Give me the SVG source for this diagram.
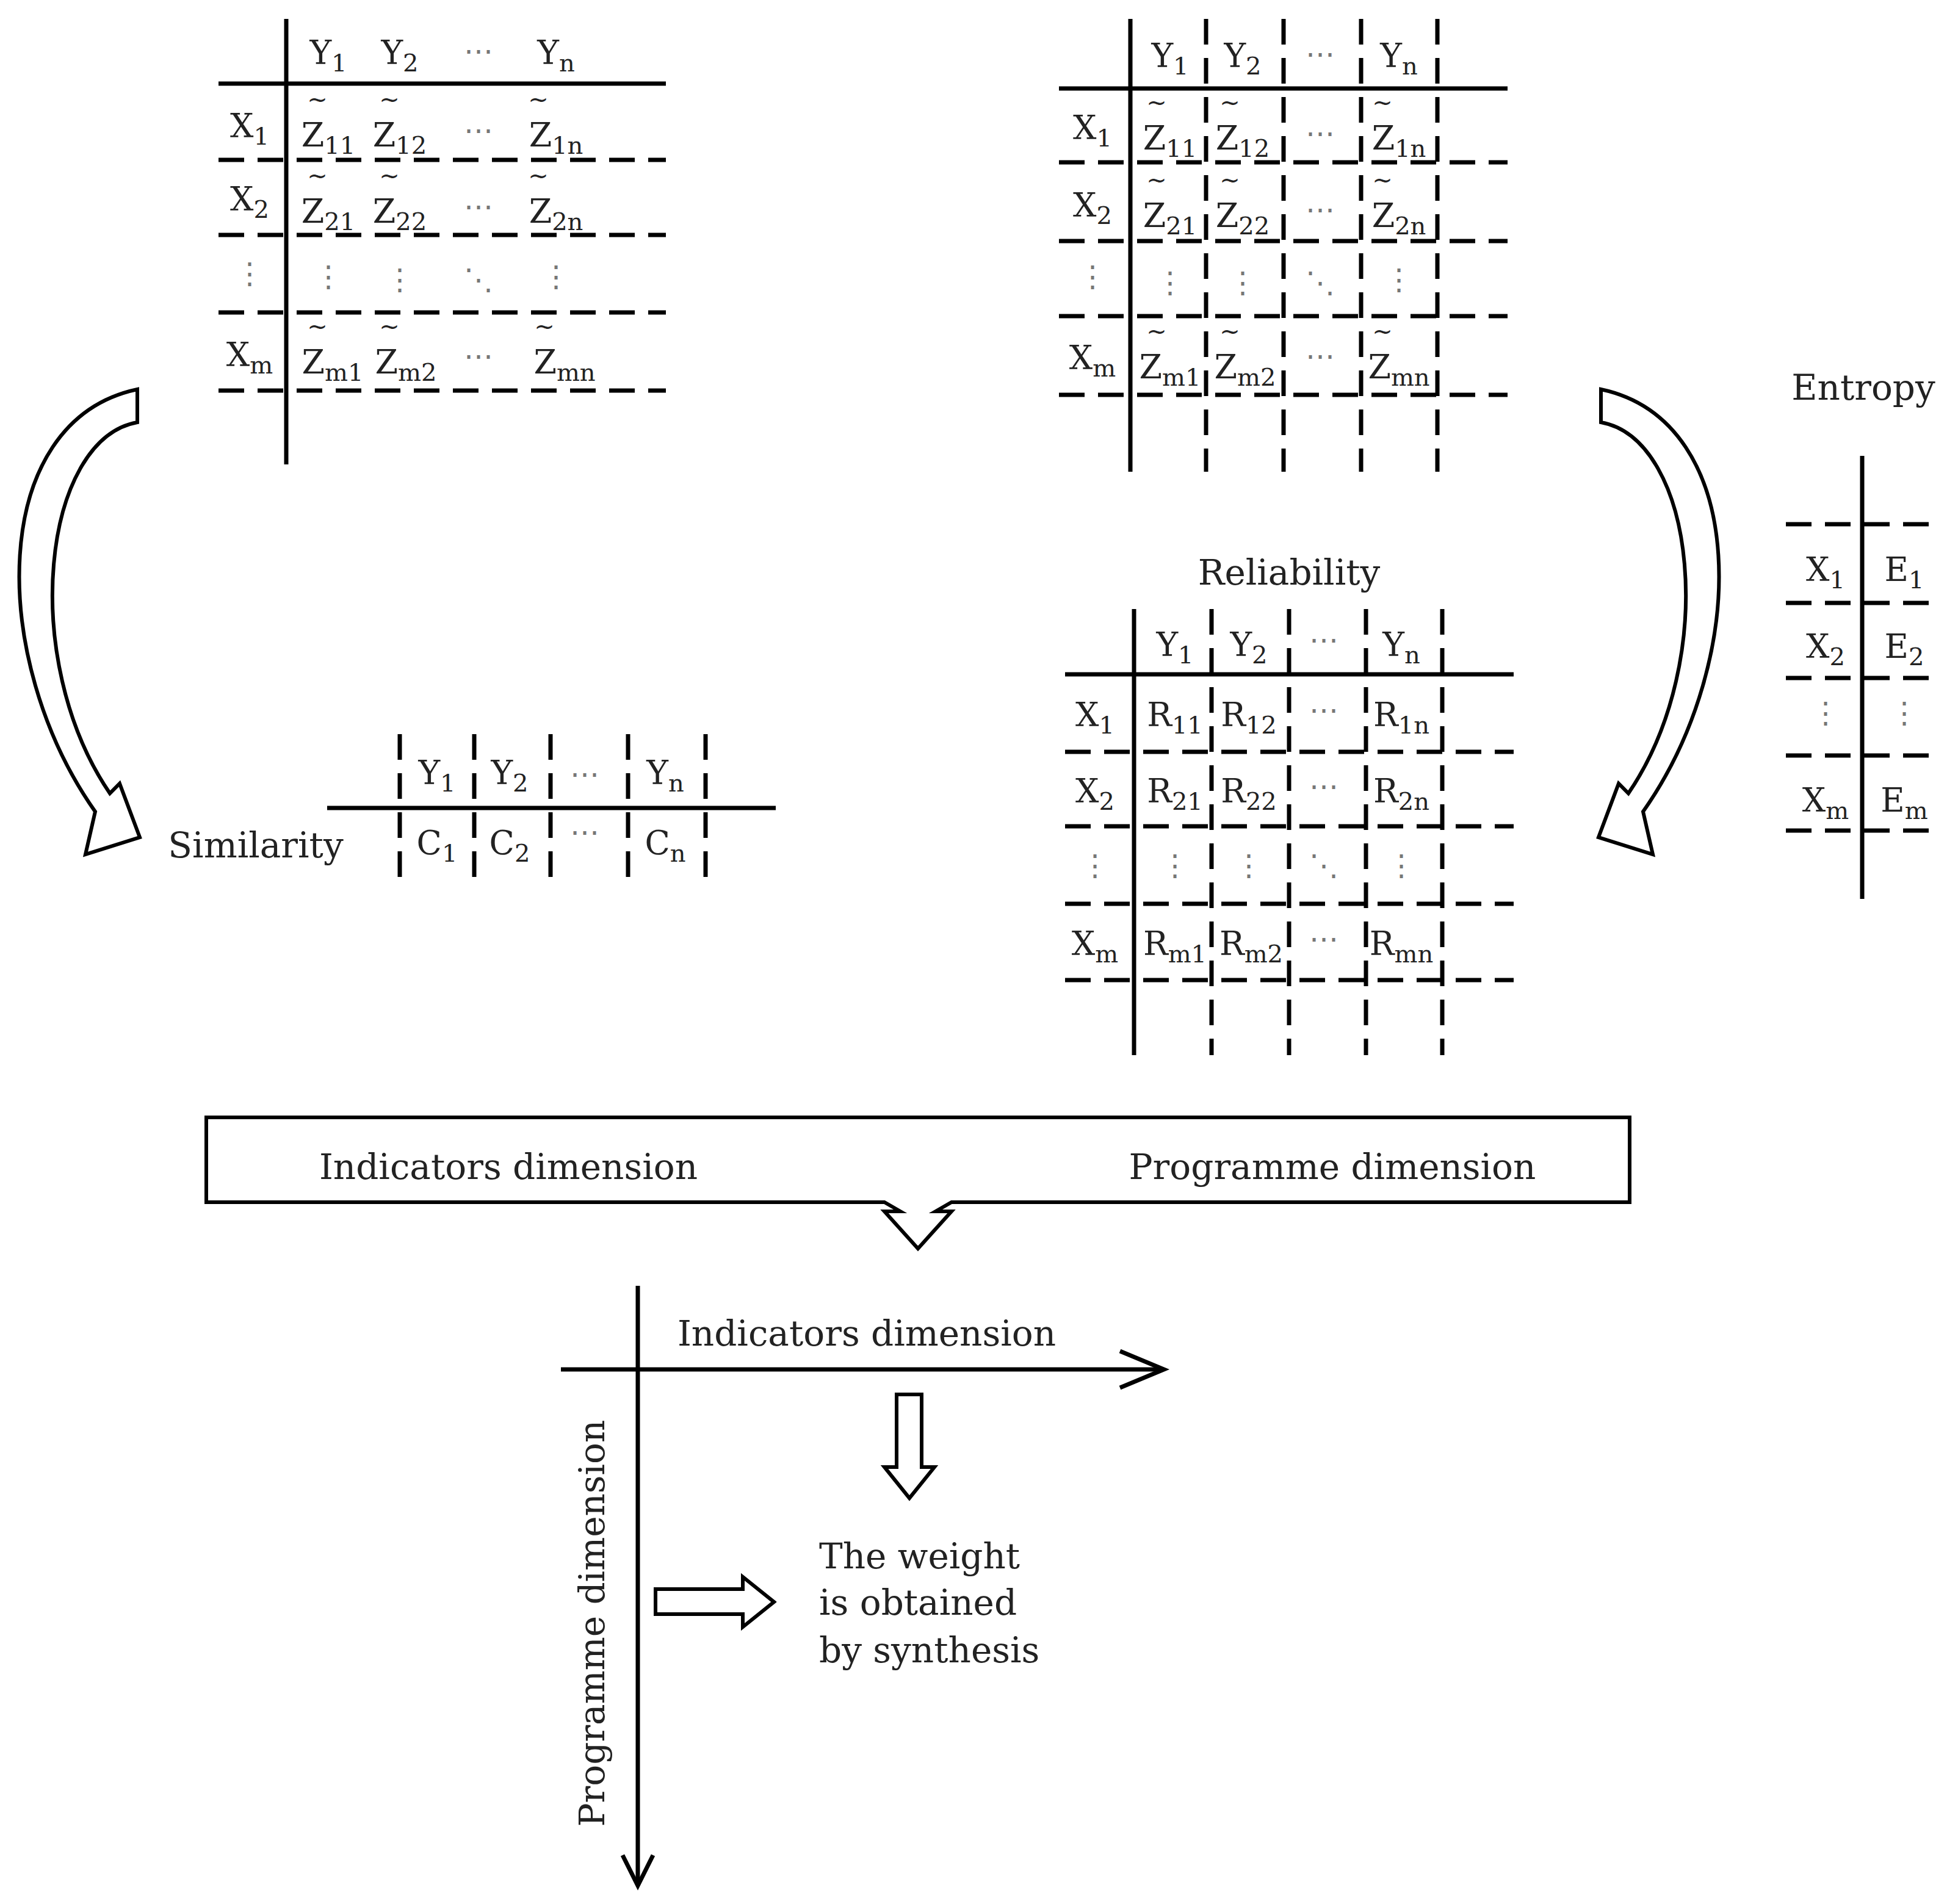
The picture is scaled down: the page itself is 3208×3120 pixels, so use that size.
<svg xmlns="http://www.w3.org/2000/svg" width="3208" height="3120" viewBox="0 0 3208 3120">
<style>
text{font-family:"DejaVu Serif","Liberation Serif",serif;font-size:54px;fill:#222;text-anchor:middle}
.s{font-size:40px}
.t{font-size:40px}
.g{fill:#777;font-size:48px}
.lbl{font-size:58px}
.solid{stroke:#000;stroke-width:7;fill:none}
.dash{stroke:#000;stroke-width:7;fill:none;stroke-dasharray:42 22}
.hol{fill:#fff;stroke:#000;stroke-width:6;stroke-linejoin:miter}
</style>
<g id="table-z-left">
<line class="solid" x1="469" y1="31" x2="469" y2="761"/>
<line class="solid" x1="358" y1="137" x2="1091" y2="137"/>
<line class="dash" x1="358" y1="262" x2="1091" y2="262"/>
<line class="dash" x1="358" y1="385" x2="1091" y2="385"/>
<line class="dash" x1="358" y1="512" x2="1091" y2="512"/>
<line class="dash" x1="358" y1="640" x2="1091" y2="640"/>
<text x="538" y="105">Y<tspan class="s" dy="12">1</tspan></text>
<text x="655" y="105">Y<tspan class="s" dy="12">2</tspan></text>
<text x="784" y="100" class="g">⋯</text>
<text x="911" y="105">Y<tspan class="s" dy="12">n</tspan></text>
<text x="409" y="225">X<tspan class="s" dy="12">1</tspan></text>
<text x="409" y="345">X<tspan class="s" dy="12">2</tspan></text>
<text x="409" y="465" class="g">⋮</text>
<text x="409" y="600">X<tspan class="s" dy="12">m</tspan></text>
<text x="538" y="240">Z<tspan class="s" dy="12">11</tspan></text><text x="520" y="176" class="t">~</text>
<text x="655" y="240">Z<tspan class="s" dy="12">12</tspan></text><text x="638" y="176" class="t">~</text>
<text x="784" y="230" class="g">⋯</text>
<text x="911" y="240">Z<tspan class="s" dy="12">1n</tspan></text><text x="882" y="176" class="t">~</text>
<text x="538" y="365">Z<tspan class="s" dy="12">21</tspan></text><text x="520" y="301" class="t">~</text>
<text x="655" y="365">Z<tspan class="s" dy="12">22</tspan></text><text x="638" y="301" class="t">~</text>
<text x="784" y="355" class="g">⋯</text>
<text x="911" y="365">Z<tspan class="s" dy="12">2n</tspan></text><text x="882" y="301" class="t">~</text>
<text x="538" y="470" class="g">⋮</text><text x="655" y="475" class="g">⋮</text><text x="784" y="475" class="g">⋱</text><text x="911" y="470" class="g">⋮</text>
<text x="545" y="612">Z<tspan class="s" dy="12">m1</tspan></text><text x="520" y="548" class="t">~</text>
<text x="665" y="612">Z<tspan class="s" dy="12">m2</tspan></text><text x="638" y="548" class="t">~</text>
<text x="784" y="600" class="g">⋯</text>
<text x="925" y="612">Z<tspan class="s" dy="12">mn</tspan></text><text x="892" y="548" class="t">~</text>
</g>
<g id="table-z-right">
<line class="solid" x1="1852" y1="31" x2="1852" y2="773"/>
<line class="solid" x1="1735" y1="145" x2="2470" y2="145"/>
<line class="dash" x1="1735" y1="266" x2="2470" y2="266"/>
<line class="dash" x1="1735" y1="395" x2="2470" y2="395"/>
<line class="dash" x1="1735" y1="518" x2="2470" y2="518"/>
<line class="dash" x1="1735" y1="647" x2="2470" y2="647"/>
<line class="dash" x1="1976" y1="31" x2="1976" y2="773"/>
<line class="dash" x1="2103" y1="31" x2="2103" y2="773"/>
<line class="dash" x1="2230" y1="31" x2="2230" y2="773"/>
<line class="dash" x1="2355" y1="31" x2="2355" y2="773"/>
<text x="1917" y="110">Y<tspan class="s" dy="12">1</tspan></text>
<text x="2036" y="110">Y<tspan class="s" dy="12">2</tspan></text>
<text x="2163" y="105" class="g">⋯</text>
<text x="2292" y="110">Y<tspan class="s" dy="12">n</tspan></text>
<text x="1790" y="228">X<tspan class="s" dy="12">1</tspan></text>
<text x="1790" y="355">X<tspan class="s" dy="12">2</tspan></text>
<text x="1790" y="470" class="g">⋮</text>
<text x="1790" y="605">X<tspan class="s" dy="12">m</tspan></text>
<text x="1917" y="245">Z<tspan class="s" dy="12">11</tspan></text><text x="1895" y="181" class="t">~</text>
<text x="2036" y="245">Z<tspan class="s" dy="12">12</tspan></text><text x="2015" y="181" class="t">~</text>
<text x="2163" y="235" class="g">⋯</text>
<text x="2292" y="245">Z<tspan class="s" dy="12">1n</tspan></text><text x="2265" y="181" class="t">~</text>
<text x="1917" y="372">Z<tspan class="s" dy="12">21</tspan></text><text x="1895" y="308" class="t">~</text>
<text x="2036" y="372">Z<tspan class="s" dy="12">22</tspan></text><text x="2015" y="308" class="t">~</text>
<text x="2163" y="360" class="g">⋯</text>
<text x="2292" y="372">Z<tspan class="s" dy="12">2n</tspan></text><text x="2265" y="308" class="t">~</text>
<text x="1917" y="480" class="g">⋮</text><text x="2036" y="480" class="g">⋮</text><text x="2163" y="480" class="g">⋱</text><text x="2292" y="475" class="g">⋮</text>
<text x="1917" y="620">Z<tspan class="s" dy="12">m1</tspan></text><text x="1895" y="556" class="t">~</text>
<text x="2040" y="620">Z<tspan class="s" dy="12">m2</tspan></text><text x="2015" y="556" class="t">~</text>
<text x="2163" y="600" class="g">⋯</text>
<text x="2292" y="620">Z<tspan class="s" dy="12">mn</tspan></text><text x="2265" y="556" class="t">~</text>
</g>
<g id="entropy">
<text x="3053" y="655" class="lbl">Entropy</text>
<line class="solid" x1="3051" y1="747" x2="3051" y2="1473"/>
<line class="dash" x1="2926" y1="859" x2="3182" y2="859"/>
<line class="dash" x1="2926" y1="988" x2="3182" y2="988"/>
<line class="dash" x1="2926" y1="1111" x2="3182" y2="1111"/>
<line class="dash" x1="2926" y1="1238" x2="3182" y2="1238"/>
<line class="dash" x1="2926" y1="1361" x2="3182" y2="1361"/>
<text x="2991" y="952">X<tspan class="s" dy="12">1</tspan></text>
<text x="3120" y="952">E<tspan class="s" dy="12">1</tspan></text>
<text x="2991" y="1078">X<tspan class="s" dy="12">2</tspan></text>
<text x="3120" y="1078">E<tspan class="s" dy="12">2</tspan></text>
<text x="2991" y="1185" class="g">⋮</text>
<text x="3120" y="1185" class="g">⋮</text>
<text x="2991" y="1330">X<tspan class="s" dy="12">m</tspan></text>
<text x="3120" y="1330">E<tspan class="s" dy="12">m</tspan></text>
</g>
<g id="reliability">
<text x="2112" y="958" class="lbl">Reliability</text>
<line class="solid" x1="1858" y1="998" x2="1858" y2="1729"/>
<line class="solid" x1="1745" y1="1105" x2="2480" y2="1105"/>
<line class="dash" x1="1745" y1="1232" x2="2480" y2="1232"/>
<line class="dash" x1="1745" y1="1354" x2="2480" y2="1354"/>
<line class="dash" x1="1745" y1="1481" x2="2480" y2="1481"/>
<line class="dash" x1="1745" y1="1606" x2="2480" y2="1606"/>
<line class="dash" x1="1985" y1="998" x2="1985" y2="1729"/>
<line class="dash" x1="2112" y1="998" x2="2112" y2="1729"/>
<line class="dash" x1="2238" y1="998" x2="2238" y2="1729"/>
<line class="dash" x1="2363" y1="998" x2="2363" y2="1729"/>
<text x="1925" y="1075">Y<tspan class="s" dy="12">1</tspan></text>
<text x="2046" y="1075">Y<tspan class="s" dy="12">2</tspan></text>
<text x="2169" y="1065" class="g">⋯</text>
<text x="2296" y="1075">Y<tspan class="s" dy="12">n</tspan></text>
<text x="1794" y="1190">X<tspan class="s" dy="12">1</tspan></text>
<text x="1925" y="1190">R<tspan class="s" dy="12">11</tspan></text>
<text x="2046" y="1190">R<tspan class="s" dy="12">12</tspan></text>
<text x="2169" y="1180" class="g">⋯</text>
<text x="2296" y="1190">R<tspan class="s" dy="12">1n</tspan></text>
<text x="1794" y="1315">X<tspan class="s" dy="12">2</tspan></text>
<text x="1925" y="1315">R<tspan class="s" dy="12">21</tspan></text>
<text x="2046" y="1315">R<tspan class="s" dy="12">22</tspan></text>
<text x="2169" y="1305" class="g">⋯</text>
<text x="2296" y="1315">R<tspan class="s" dy="12">2n</tspan></text>
<text x="1794" y="1435" class="g">⋮</text><text x="1925" y="1435" class="g">⋮</text><text x="2046" y="1435" class="g">⋮</text><text x="2169" y="1435" class="g">⋱</text><text x="2296" y="1435" class="g">⋮</text>
<text x="1794" y="1565">X<tspan class="s" dy="12">m</tspan></text>
<text x="1925" y="1565">R<tspan class="s" dy="12">m1</tspan></text>
<text x="2050" y="1565">R<tspan class="s" dy="12">m2</tspan></text>
<text x="2169" y="1555" class="g">⋯</text>
<text x="2296" y="1565">R<tspan class="s" dy="12">mn</tspan></text>
</g>
<g id="similarity">
<text x="419" y="1405" class="lbl">Similarity</text>
<line class="solid" x1="536" y1="1324" x2="1271" y2="1324"/>
<line class="dash" x1="655" y1="1203" x2="655" y2="1457"/>
<line class="dash" x1="777" y1="1203" x2="777" y2="1457"/>
<line class="dash" x1="902" y1="1203" x2="902" y2="1457"/>
<line class="dash" x1="1029" y1="1203" x2="1029" y2="1457"/>
<line class="dash" x1="1156" y1="1203" x2="1156" y2="1457"/>
<text x="716" y="1285">Y<tspan class="s" dy="12">1</tspan></text>
<text x="835" y="1285">Y<tspan class="s" dy="12">2</tspan></text>
<text x="958" y="1285" class="g">⋯</text>
<text x="1090" y="1285">Y<tspan class="s" dy="12">n</tspan></text>
<text x="716" y="1400">C<tspan class="s" dy="12">1</tspan></text>
<text x="835" y="1400">C<tspan class="s" dy="12">2</tspan></text>
<text x="958" y="1380" class="g">⋯</text>
<text x="1090" y="1400">C<tspan class="s" dy="12">n</tspan></text>
</g>
<g id="curved-arrows">
<path id="carrow" class="hol" d="M225,638 L225,692 C70,720 30,1080 180,1300 L196,1284 L229,1372 L140,1400 L156,1330 C-20,1080 -20,690 225,638 Z"/>
<use href="#carrow" transform="translate(2848,0) scale(-1,1)"/>
</g>
<g id="dimensions-box">
<path class="hol" d="M338,1831 L2670,1831 L2670,1970 L1559,1970 L1533,1985 L1559,1985 L1504,2046 L1449,1985 L1475,1985 L1449,1970 L338,1970 Z"/>
<text x="833" y="1932" class="lbl">Indicators dimension</text>
<text x="2183" y="1932" class="lbl">Programme dimension</text>
</g>
<g id="axes">
<line class="solid" x1="1045" y1="2107" x2="1045" y2="3088"/>
<polyline class="solid" points="1020,3040 1045,3090 1070,3040"/>
<line class="solid" x1="919" y1="2244" x2="1905" y2="2244"/>
<polyline class="solid" points="1835,2214 1907,2244 1835,2274"/>
<text x="1420" y="2205" class="lbl">Indicators dimension</text>
<text transform="translate(990,2660) rotate(-90)" class="lbl">Programme dimension</text>
</g>
<g id="hollow-arrows">
<path class="hol" d="M1469,2285 L1510,2285 L1510,2404 L1531,2404 L1490,2455 L1449,2404 L1469,2404 Z"/>
<path class="hol" d="M1074,2604 L1217,2604 L1217,2584 L1268,2625 L1217,2666 L1217,2645 L1074,2645 Z"/>
</g>
<g id="result">
<text x="1342" y="2570" class="lbl" style="text-anchor:start">The weight</text>
<text x="1342" y="2646" class="lbl" style="text-anchor:start">is obtained</text>
<text x="1342" y="2724" class="lbl" style="text-anchor:start">by synthesis</text>
</g>
</svg>
